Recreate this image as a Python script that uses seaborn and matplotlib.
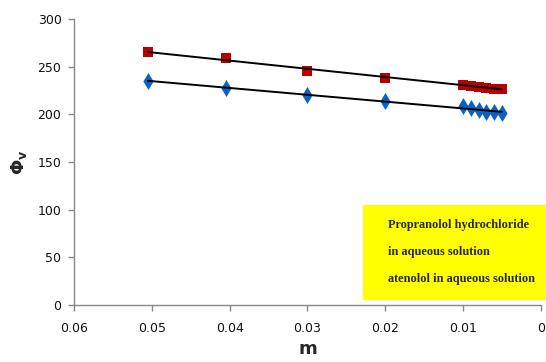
import matplotlib
matplotlib.use('Agg')
import matplotlib.pyplot as plt
import seaborn as sns
import pandas as pd
from matplotlib.patches import Rectangle

# molality values (mol/kg)
m_vals = [0.0505, 0.0405, 0.030, 0.020, 0.010, 0.009, 0.008, 0.007, 0.006, 0.005]
# apparent molar volume
phi_propranolol = [265, 259, 246, 238, 231, 230, 229, 228, 227, 227]
phi_atenolol = [235, 228, 220, 214, 209, 207, 205, 203, 202, 201]

legend_lines = ['Propranolol hydrochloride', 'in aqueous solution', 'atenolol in aqueous solution']

df = pd.DataFrame({'m': m_vals, 'prop': phi_propranolol, 'aten': phi_atenolol})

sns.set_style('white')
plt.rcParams['font.family'] = ['DejaVu Sans']

fig = plt.figure(figsize=(5.46, 3.62), dpi=100)
ax = fig.add_axes([0.1355, 0.157, 0.855, 0.7905])

red = '#b80000'
blue = '#0a63c4'

# trend lines
sns.regplot(data=df, x='m', y='prop', ax=ax, scatter=False, ci=None, truncate=True,
            line_kws={'color': 'black', 'lw': 1.4})
sns.regplot(data=df, x='m', y='aten', ax=ax, scatter=False, ci=None, truncate=True,
            line_kws={'color': 'black', 'lw': 1.4})

sns.scatterplot(data=df, x='m', y='prop', ax=ax, marker='s', s=60, color=red,
                edgecolor=red, linewidth=0, zorder=1)
sns.scatterplot(data=df, x='m', y='aten', ax=ax, marker='d', s=75, color=blue,
                edgecolor=blue, linewidth=0, zorder=1)

ax.set_xlim(0.06, 0)
ax.set_ylim(0, 300)
ax.set_xticks([0.06, 0.05, 0.04, 0.03, 0.02, 0.01, 0])
ax.set_xticklabels(['0.06', '0.05', '0.04', '0.03', '0.02', '0.01', '0'])
ax.set_yticks(range(0, 301, 50))

for s in ['top', 'right']:
    ax.spines[s].set_visible(False)
for s in ['left', 'bottom']:
    ax.spines[s].set_color('#888888')
    ax.spines[s].set_linewidth(1.0)
ax.tick_params(axis='both', direction='out', length=4, width=1, color='#888888',
               labelsize=9, labelcolor='#111111', bottom=True, left=True)
ax.tick_params(axis='y', pad=5)
ax.tick_params(axis='x', pad=8)

ax.set_xlabel('m', fontsize=13, fontweight='bold', labelpad=4)
ax.set_ylabel('$\\mathbf{\\Phi_v}$', fontsize=13, labelpad=6)

# yellow legend box
fig.patches.append(Rectangle((363 / 546, 1 - 300 / 362), 183 / 546, 95 / 362,
                             transform=fig.transFigure, facecolor='#ffff00',
                             edgecolor='none', zorder=5))
for i, line in enumerate(legend_lines):
    fig.text(388 / 546, 1 - (225 + i * 27) / 362, line, fontsize=8.8,
             fontweight='bold', family=['Liberation Serif'], va='center',
             ha='left', zorder=6)

fig.savefig('out.png', dpi=100)
